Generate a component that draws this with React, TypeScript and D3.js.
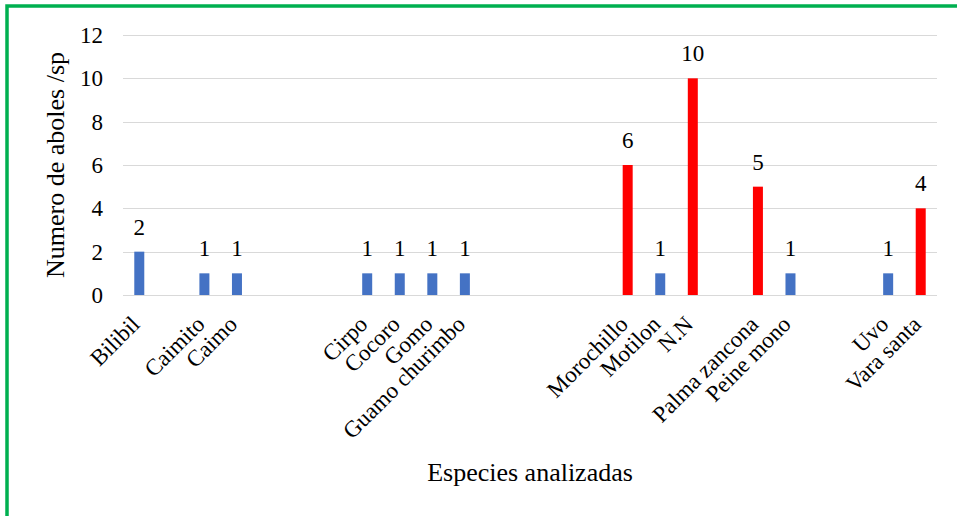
import React, { useEffect, useRef } from "react";
import * as d3 from "d3";

// 25 category slots, empty ones keep the gaps of the original chart
const categories: string[] = [
  "Bilibil", "", "Caimito", "Caimo", "", "", "",
  "Cirpo", "Cocoro", "Gomo", "Guamo churimbo", "", "", "", "",
  "Morochillo", "Motilon", "N.N", "", "Palma zancona", "Peine mono", "", "",
  "Uvo", "Vara santa",
];
const values: (number | null)[] = [
  2, null, 1, 1, null, null, null,
  1, 1, 1, 1, null, null, null, null,
  6, 1, 10, null, 5, 1, null, null,
  1, 4,
];
const highlighted: string[] = ["Morochillo", "N.N", "Palma zancona", "Vara santa"];
const yTicks: number[] = [0, 2, 4, 6, 8, 10, 12];

const W = 957;
const H = 516;
const FONT = "'Liberation Serif', 'Times New Roman', serif";

const App: React.FC = () => {
  const svgRef = useRef<SVGSVGElement | null>(null);

  useEffect(() => {
    if (!svgRef.current) return;
    const svg = d3.select(svgRef.current);
    svg.selectAll("*").remove();

    const margin = { top: 35, right: 20, bottom: 221, left: 123 };
    const plotW = 937 - margin.left;
    const plotH = H - margin.top - margin.bottom;

    const x = d3
      .scaleBand<number>()
      .domain(d3.range(categories.length))
      .range([margin.left, margin.left + plotW]);
    const y = d3.scaleLinear().domain([0, 12]).range([margin.top + plotH, margin.top]);

    // green frame
    svg
      .append("path")
      .attr("d", `M7,${H + 5} L7,6 L${W + 5},6`)
      .attr("fill", "none")
      .attr("stroke", "#00b050")
      .attr("stroke-width", 3.5);

    // gridlines
    svg
      .append("g")
      .selectAll("line")
      .data(yTicks)
      .join("line")
      .attr("x1", margin.left)
      .attr("x2", margin.left + plotW)
      .attr("y1", (d) => Math.round(y(d)) + 0.5)
      .attr("y2", (d) => Math.round(y(d)) + 0.5)
      .attr("stroke", "#d9d9d9")
      .attr("stroke-width", 1);

    // y tick labels
    svg
      .append("g")
      .selectAll("text")
      .data(yTicks)
      .join("text")
      .attr("x", margin.left - 20)
      .attr("y", (d) => y(d))
      .attr("dy", "0.35em")
      .attr("text-anchor", "end")
      .style("font-family", FONT)
      .attr("font-size", 23)
      .attr("fill", "#000")
      .text((d) => d);

    const barW = 10;
    const items = values
      .map((v, i) => ({ i, v, name: categories[i] }))
      .filter((d) => d.v !== null) as { i: number; v: number; name: string }[];

    // bars
    svg
      .append("g")
      .selectAll("rect")
      .data(items)
      .join("rect")
      .attr("x", (d) => x(d.i)! + x.bandwidth() / 2 - barW / 2)
      .attr("y", (d) => y(d.v))
      .attr("width", barW)
      .attr("height", (d) => y(0) - y(d.v))
      .attr("fill", (d) => (highlighted.includes(d.name) ? "#ff0000" : "#4472c4"));

    // value labels
    svg
      .append("g")
      .selectAll("text")
      .data(items)
      .join("text")
      .attr("x", (d) => x(d.i)! + x.bandwidth() / 2)
      .attr("y", (d) => y(d.v) - 17)
      .attr("text-anchor", "middle")
      .style("font-family", FONT)
      .attr("font-size", 23)
      .attr("fill", "#000")
      .text((d) => d.v);

    // category labels
    svg
      .append("g")
      .selectAll("text")
      .data(items)
      .join("text")
      .attr("transform", (d) => `translate(${x(d.i)! + x.bandwidth() / 2 - 4},${y(0) + 25}) rotate(-45)`)
      .attr("dy", "0.35em")
      .attr("text-anchor", "end")
      .style("font-family", FONT)
      .attr("font-size", 23)
      .attr("fill", "#000")
      .text((d) => d.name);

    // axis titles
    svg
      .append("text")
      .attr("x", 530)
      .attr("y", 481)
      .attr("text-anchor", "middle")
      .style("font-family", FONT)
      .attr("font-size", 26)
      .attr("fill", "#000")
      .text("Especies analizadas");

    svg
      .append("text")
      .attr("transform", `translate(64,${y(6)}) rotate(-90)`)
      .attr("text-anchor", "middle")
      .style("font-family", FONT)
      .attr("font-size", 26)
      .attr("fill", "#000")
      .text("Numero de aboles /sp");
  }, []);

  return (
    <svg
      ref={svgRef}
      width={W}
      height={H}
      style={{ position: "absolute", left: 0, top: 0, background: "#fff" }}
    />
  );
};

export default App;
